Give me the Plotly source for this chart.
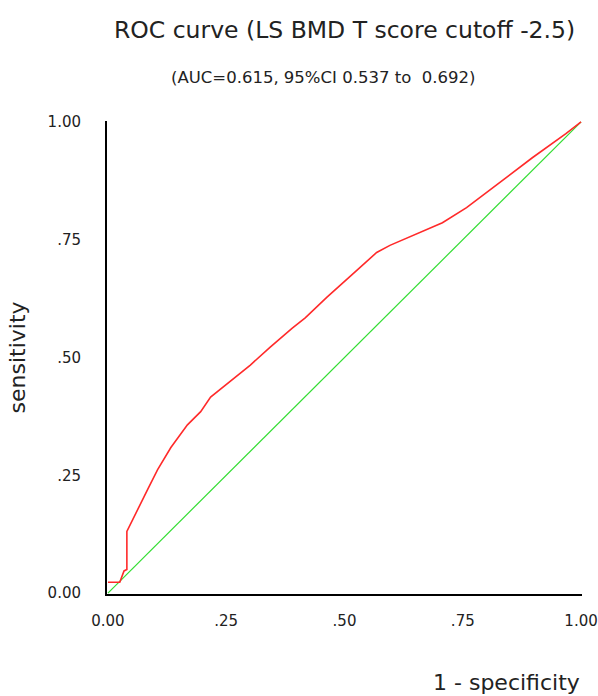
import plotly.graph_objects as go

# ROC curve points (1 - specificity, sensitivity)
fpr = [0.0, 0.025, 0.034, 0.04, 0.04, 0.059, 0.084, 0.105, 0.133, 0.168, 0.196, 0.217,
       0.244, 0.274, 0.301, 0.343, 0.389, 0.417, 0.463, 0.526, 0.568, 0.596, 0.659,
       0.707, 0.758, 0.800, 0.848, 0.897, 0.968, 1.0]
tpr = [0.023, 0.023, 0.047, 0.05, 0.131, 0.171, 0.220, 0.262, 0.309, 0.357, 0.385, 0.416,
       0.438, 0.463, 0.484, 0.522, 0.562, 0.584, 0.628, 0.685, 0.723, 0.738, 0.765,
       0.786, 0.818, 0.850, 0.886, 0.924, 0.975, 1.0]
ref_x = [0.0, 1.0]
ref_y = [0.0, 1.0]
tick_vals = [0.0, 0.25, 0.5, 0.75, 1.0]
x_tick_text = ["0.00", ".25", ".50", ".75", "1.00"]
y_tick_text = ["0.00", ".25", ".50", ".75", "1.00"]

font_family = "DejaVu Sans"
txt = "#222222"
fig = go.Figure()
fig.add_trace(go.Scatter(x=ref_x, y=ref_y, mode="lines",
                         line=dict(color="#33dd33", width=1.2), showlegend=False))
fig.add_trace(go.Scatter(x=fpr, y=tpr, mode="lines",
                         line=dict(color="#ff2a2a", width=1.6), showlegend=False))

fig.update_layout(
    width=598, height=696,
    paper_bgcolor="white", plot_bgcolor="white",
    margin=dict(l=107, r=16, t=121, b=102, autoexpand=False),
    font=dict(family=font_family, color=txt),
)
fig.add_annotation(text="ROC curve (LS BMD T score cutoff -2.5)", xref="paper", yref="paper",
                   x=0.5, y=1.0, yshift=91, showarrow=False,
                   font=dict(size=23.5, color=txt), xanchor="center", yanchor="middle")
fig.add_annotation(text="(AUC=0.615, 95%CI 0.537 to  0.692)", xref="paper", yref="paper",
                   x=0.455, y=1.0, yshift=44, showarrow=False,
                   font=dict(size=16.5, color=txt), xanchor="center", yanchor="middle")
fig.add_annotation(text="sensitivity", xref="paper", yref="paper",
                   x=0, xshift=-90, y=0.5, showarrow=False, textangle=-90,
                   font=dict(size=22, color=txt), xanchor="center", yanchor="middle")
fig.add_annotation(text="1 - specificity", xref="paper", yref="paper",
                   x=1.0, xshift=0, y=0, yshift=-88, showarrow=False,
                   font=dict(size=22, color=txt), xanchor="right", yanchor="middle")

fig.update_xaxes(range=[-0.002, 1.002], tickvals=tick_vals, ticktext=x_tick_text,
                 showgrid=False, zeroline=False, showline=True, linecolor="black",
                 linewidth=2, ticks="", tickfont=dict(size=15, color=txt),
                 ticklabelstandoff=12, automargin=False)
fig.update_yaxes(range=[-0.002, 1.002], tickvals=tick_vals, ticktext=y_tick_text,
                 showgrid=False, zeroline=False, showline=True, linecolor="black",
                 linewidth=2, ticks="", tickfont=dict(size=15, color=txt),
                 ticklabelstandoff=21, automargin=False)

fig.write_html("out.html", config={"displayModeBar": False},
               post_script="document.body.style.margin='0px';document.body.style.overflow='hidden';")
